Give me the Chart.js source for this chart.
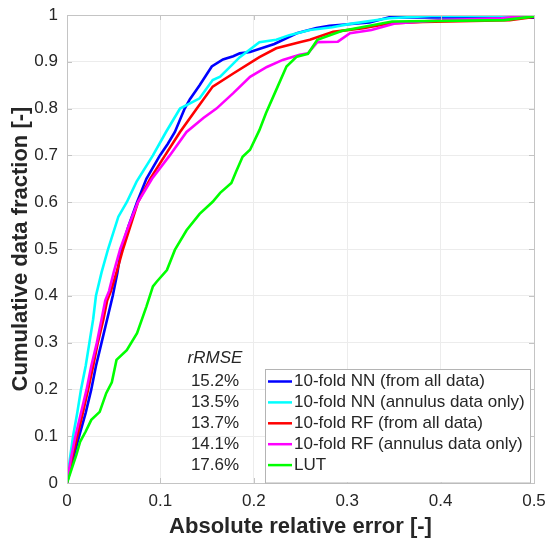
<!DOCTYPE html>
<html>
<head>
<meta charset="utf-8">
<script src="https://cdn.jsdelivr.net/npm/chart.js@4/dist/chart.umd.min.js"></script>
<style>
    html, body { margin: 0; padding: 0; background: #fff; }
    #wrap { width: 550px; height: 544px; }
</style>
</head>
<body>
<div id="wrap"><canvas id="cdfChart" width="550" height="544"></canvas></div>
<script>
// 数据
const seriesLabels = [
    '10-fold NN (from all data)',
    '10-fold NN (annulus data only)',
    '10-fold RF (from all data)',
    '10-fold RF (annulus data only)',
    'LUT'
];
const rrmseLabels = ['15.2%', '13.5%', '13.7%', '14.1%', '17.6%'];

const xTickLabels = ['0', '0.1', '0.2', '0.3', '0.4', '0.5'];
const yTickLabels = ['0', '0.1', '0.2', '0.3', '0.4', '0.5', '0.6', '0.7', '0.8', '0.9', '1'];

const nnAllX = [0, 0.005, 0.013, 0.020, 0.026, 0.031, 0.037, 0.043, 0.049, 0.054, 0.058, 0.066, 0.075, 0.085, 0.0995, 0.108, 0.1155, 0.126, 0.1316, 0.142, 0.155, 0.167, 0.178, 0.185, 0.196, 0.222, 0.246, 0.267, 0.281, 0.324, 0.345, 0.40, 0.5];
const nnAllY = [0, 0.04, 0.10, 0.15, 0.20, 0.25, 0.30, 0.35, 0.40, 0.45, 0.50, 0.55, 0.60, 0.65, 0.70, 0.725, 0.75, 0.80, 0.82, 0.85, 0.89, 0.905, 0.912, 0.918, 0.921, 0.938, 0.961, 0.972, 0.977, 0.984, 0.995, 0.995, 0.994];

const nnAnnX = [0, 0.003, 0.0065, 0.011, 0.015, 0.020, 0.024, 0.028, 0.031, 0.037, 0.044, 0.055, 0.064, 0.0745, 0.092, 0.106, 0.121, 0.142, 0.156, 0.164, 0.185, 0.206, 0.224, 0.238, 0.26, 0.284, 0.303, 0.345, 0.39, 0.5];
const nnAnnY = [0, 0.05, 0.10, 0.15, 0.20, 0.25, 0.30, 0.35, 0.40, 0.45, 0.50, 0.569, 0.60, 0.644, 0.70, 0.75, 0.80, 0.822, 0.861, 0.868, 0.91, 0.942, 0.947, 0.957, 0.968, 0.974, 0.981, 0.993, 0.998, 0.998];

const rfAllX = [0, 0.005, 0.011, 0.017, 0.0226, 0.028, 0.033, 0.039, 0.043, 0.047, 0.053, 0.06, 0.068, 0.076, 0.089, 0.105, 0.121, 0.139, 0.156, 0.178, 0.206, 0.224, 0.249, 0.26, 0.285, 0.317, 0.345, 0.381, 0.474, 0.5];
const rfAllY = [0, 0.05, 0.10, 0.15, 0.20, 0.25, 0.30, 0.35, 0.39, 0.41, 0.45, 0.50, 0.55, 0.60, 0.65, 0.70, 0.75, 0.80, 0.847, 0.875, 0.91, 0.929, 0.942, 0.947, 0.964, 0.972, 0.982, 0.985, 0.989, 0.996];

const rfAnnX = [0, 0.004, 0.009, 0.015, 0.021, 0.026, 0.032, 0.037, 0.041, 0.045, 0.050, 0.057, 0.066, 0.076, 0.091, 0.11, 0.128, 0.146, 0.16, 0.178, 0.196, 0.214, 0.231, 0.249, 0.258, 0.268, 0.29, 0.303, 0.326, 0.351, 0.401, 0.465, 0.5];
const rfAnnY = [0, 0.05, 0.10, 0.15, 0.20, 0.25, 0.30, 0.35, 0.39, 0.41, 0.45, 0.50, 0.55, 0.60, 0.65, 0.70, 0.75, 0.78, 0.80, 0.833, 0.868, 0.889, 0.904, 0.915, 0.918, 0.942, 0.943, 0.961, 0.968, 0.982, 0.989, 0.993, 1.0];

const lutX = [0, 0.005, 0.010, 0.014, 0.020, 0.026, 0.035, 0.042, 0.048, 0.053, 0.064, 0.075, 0.085, 0.092, 0.096, 0.107, 0.1155, 0.128, 0.142, 0.156, 0.164, 0.176, 0.181, 0.188, 0.196, 0.206, 0.213, 0.224, 0.235, 0.246, 0.258, 0.268, 0.294, 0.348, 0.468, 0.5];
const lutY = [0, 0.03, 0.06, 0.088, 0.11, 0.135, 0.152, 0.192, 0.215, 0.263, 0.284, 0.32, 0.377, 0.42, 0.43, 0.455, 0.498, 0.54, 0.575, 0.601, 0.62, 0.641, 0.665, 0.697, 0.712, 0.754, 0.79, 0.84, 0.89, 0.911, 0.917, 0.947, 0.966, 0.986, 0.989, 0.997];

const lineColors = ['#0000ff', '#00ffff', '#ff0000', '#ff00ff', '#00ff00'];

const FONT = '"Liberation Sans", Arial, Helvetica, sans-serif';
const TEXT_COLOR = '#262626';
const AXIS_COLOR = '#c4c4c4';
const GRID_COLOR = '#ececec';

function toPoints(xs, ys) {
    return xs.map((x, i) => ({ x: x, y: ys[i] }));
}

const seriesData = [
    toPoints(nnAllX, nnAllY),
    toPoints(nnAnnX, nnAnnY),
    toPoints(rfAllX, rfAllY),
    toPoints(rfAnnX, rfAnnY),
    toPoints(lutX, lutY)
];

// 坐标框 + 内侧刻度
const boxPlugin = {
    id: 'boxPlugin',
    afterDatasetsDraw(chart) {
        const { ctx, chartArea: a, scales } = chart;
        ctx.save();
        ctx.strokeStyle = AXIS_COLOR;
        ctx.lineWidth = 1;
        ctx.strokeRect(a.left + 0.5, a.top + 0.5, a.right - a.left, a.bottom - a.top);
        ctx.beginPath();
        scales.x.ticks.forEach((t, i) => {
            const px = Math.round(scales.x.getPixelForTick(i)) + 0.5;
            ctx.moveTo(px, a.top); ctx.lineTo(px, a.top + 5);
            ctx.moveTo(px, a.bottom); ctx.lineTo(px, a.bottom - 5);
        });
        scales.y.ticks.forEach((t, i) => {
            const py = Math.round(scales.y.getPixelForTick(i)) + 0.5;
            ctx.moveTo(a.left, py); ctx.lineTo(a.left + 5, py);
            ctx.moveTo(a.right, py); ctx.lineTo(a.right - 5, py);
        });
        ctx.stroke();
        ctx.restore();
    }
};

// 图例 + rRMSE 列
const legendPlugin = {
    id: 'legendPlugin',
    afterDraw(chart) {
        const { ctx, chartArea: a } = chart;
        const datasets = chart.data.datasets;
        const boxLeft = a.left + 198;
        const boxRight = a.right - 4;
        const boxTop = a.top + 354;
        const rowH = 20.9;
        const boxBottom = boxTop + rowH * datasets.length + 9;
        ctx.save();
        ctx.fillStyle = '#ffffff';
        ctx.fillRect(boxLeft, boxTop, boxRight - boxLeft, boxBottom - boxTop);
        ctx.strokeStyle = '#b4b4b4';
        ctx.lineWidth = 1;
        ctx.strokeRect(boxLeft + 0.5, boxTop + 0.5, boxRight - boxLeft, boxBottom - boxTop);

        ctx.font = '17px ' + FONT;
        ctx.textBaseline = 'middle';
        datasets.forEach((ds, i) => {
            const cy = boxTop + 12.5 + i * rowH;
            ctx.strokeStyle = ds.borderColor;
            ctx.lineWidth = 2.5;
            ctx.beginPath();
            ctx.moveTo(boxLeft + 3, cy);
            ctx.lineTo(boxLeft + 27, cy);
            ctx.stroke();
            ctx.fillStyle = TEXT_COLOR;
            ctx.textAlign = 'left';
            ctx.fillText(ds.label, boxLeft + 29, cy);
            ctx.textAlign = 'center';
            ctx.fillText(rrmseLabels[i], boxLeft - 50, cy);
        });
        ctx.textAlign = 'center';
        ctx.font = 'italic 17px ' + FONT;
        ctx.fillText('rRMSE', boxLeft - 50, boxTop - 11);
        ctx.restore();
    }
};

const ctx = document.getElementById('cdfChart').getContext('2d');

new Chart(ctx, {
    type: 'line',
    data: {
        datasets: seriesLabels.map((label, i) => ({
            label: label,
            data: seriesData[i],
            borderColor: lineColors[i],
            backgroundColor: lineColors[i],
            borderWidth: 2.6,
            pointRadius: 0,
            tension: 0,
            fill: false,
            order: seriesLabels.length - 1 - i
        }))
    },
    options: {
        responsive: false,
        animation: false,
        layout: { padding: { top: 15, right: 16, left: 0, bottom: 0 } },
        plugins: {
            legend: { display: false },
            tooltip: { enabled: false }
        },
        scales: {
            x: {
                type: 'linear',
                min: 0,
                max: 0.5,
                afterFit: (scale) => {
                    scale.height = 61;
                    scale.paddingLeft = 0;
                    scale.paddingRight = 0;
                },
                afterBuildTicks: (scale) => {
                    scale.ticks = xTickLabels.map(v => ({ value: parseFloat(v) }));
                },
                ticks: {
                    callback: (value, index) => xTickLabels[index],
                    padding: 8,
                    color: TEXT_COLOR,
                    font: { family: FONT, size: 17 },
                    maxRotation: 0
                },
                grid: { color: GRID_COLOR, drawTicks: false },
                border: { display: false },
                title: {
                    display: true,
                    text: 'Absolute relative error [-]',
                    color: TEXT_COLOR,
                    font: { family: FONT, size: 22, weight: 'bold' },
                    padding: { top: 0, bottom: 4 }
                }
            },
            y: {
                type: 'linear',
                min: 0,
                max: 1,
                afterFit: (scale) => {
                    scale.width = 67;
                    scale.paddingTop = 0;
                    scale.paddingBottom = 0;
                },
                afterBuildTicks: (scale) => {
                    scale.ticks = yTickLabels.map(v => ({ value: parseFloat(v) }));
                },
                ticks: {
                    callback: (value, index) => yTickLabels[index],
                    padding: 9,
                    color: TEXT_COLOR,
                    font: { family: FONT, size: 17 }
                },
                grid: { color: GRID_COLOR, drawTicks: false },
                border: { display: false },
                title: {
                    display: true,
                    text: 'Cumulative data fraction [-]',
                    color: TEXT_COLOR,
                    font: { family: FONT, size: 22, weight: 'bold' },
                    padding: { top: 8, bottom: 0 }
                }
            }
        }
    },
    plugins: [boxPlugin, legendPlugin]
});
</script>
</body>
</html>
